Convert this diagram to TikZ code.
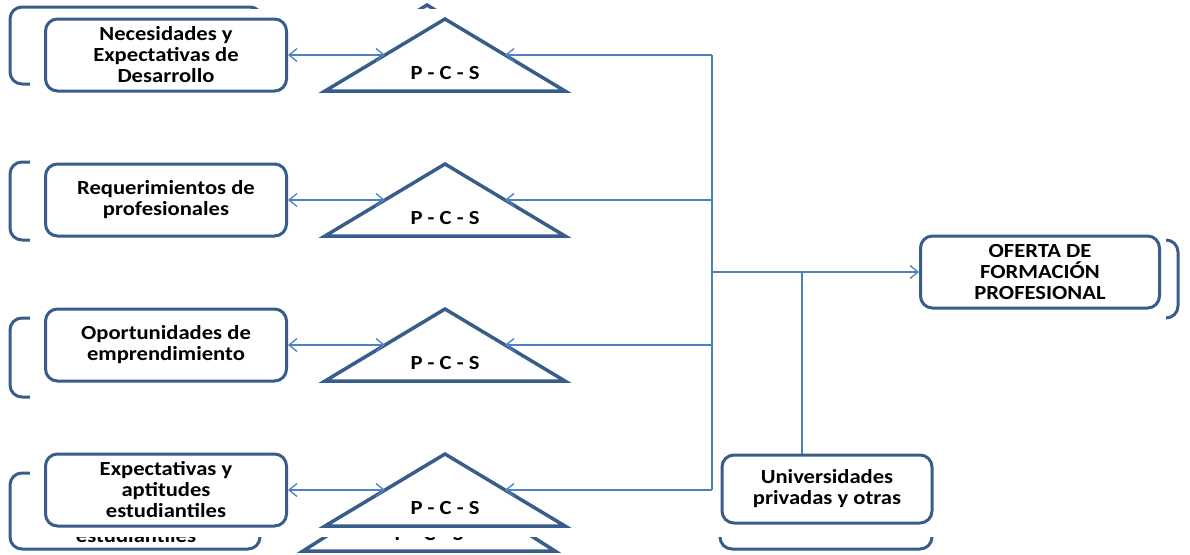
\documentclass[tikz,border=0pt]{standalone}
\usepackage{fontspec}
\newfontfamily\calfont[FakeStretch=1.13]{Carlito}
\usetikzlibrary{positioning,arrows.meta}
\definecolor{shapeblue}{RGB}{56,93,138}
\definecolor{linkblue}{RGB}{79,129,189}

\begin{document}
\begin{tikzpicture}[x=1pt,y=-1pt,>={Straight Barb[length=8pt,width=13pt]},
   node distance=70pt,
   every node/.style={font=\calfont\bfseries\fontsize{20}{21}\selectfont},
   box/.style={draw=shapeblue,line width=3pt,rounded corners=12pt,fill=white,
     align=center,minimum width=241pt,minimum height=72pt,inner sep=2pt},
   ghost/.style={draw=shapeblue,line width=3pt,rounded corners=12pt},
   tri/.style={draw=shapeblue,line width=3.5pt},
   link/.style={draw=linkblue,line width=1.3pt}]
  \useasboundingbox (0,0) rectangle (1190,554);
  % shifted copy left behind, only its edges show
  \draw[ghost] (10,7) rectangle (262,84);
  \draw[ghost] (10,162) rectangle (262,240);
  \draw[ghost] (10,318) rectangle (262,397);
  \draw[ghost] (10,473) rectangle (260,549);
  \draw[ghost] (720,470) rectangle (932,549);
  \draw[ghost] (900,240) rectangle (1178,318);
  \draw[tri] (305,80) -- (427,5) -- (549,80) -- cycle;
  \draw[tri] (303,551) -- (429,471) -- (555,551) -- cycle;
  \node[anchor=base] (gst) at (136,542) {estudiantiles};
  \node[anchor=base] (gpcs) at (429,540) {P - C - S};
  \fill[white] (30,9) rectangle (1166,537);

  % left column
  \node[box] (b1) at (166,55) {Necesidades y\\Expectativas de\\Desarrollo};
  \node[box] (b2) [below=of b1] {Requerimientos de\\profesionales};
  \node[box] (b3) [below=of b2] {Oportunidades de\\emprendimiento};
  \node[box] (b4) [below=of b3] {Expectativas y\\aptitudes\\estudiantiles};

  % triangles
  \draw[tri] (325,91) -- (445,19) -- (565,91) -- cycle;
  \draw[tri] (325,236) -- (445,164) -- (565,236) -- cycle;
  \draw[tri] (325,381) -- (445,309) -- (565,381) -- cycle;
  \draw[tri] (325,526) -- (445,454) -- (565,526) -- cycle;
  \node (p1) at (445,73) {P - C - S};
  \node (p2) at (445,218) {P - C - S};
  \node (p3) at (445,363) {P - C - S};
  \node (p4) at (445,508) {P - C - S};
  \coordinate (t1w) at (385,55);  \coordinate (t1e) at (505,55);
  \coordinate (t2w) at (385,200); \coordinate (t2e) at (505,200);
  \coordinate (t3w) at (385,345); \coordinate (t3e) at (505,345);
  \coordinate (t4w) at (385,490); \coordinate (t4e) at (505,490);

  % right side
  \node[box,minimum width=239pt] (ofe) at (1040,272) {OFERTA DE\\FORMACIÓN\\PROFESIONAL};
  \node[box,minimum width=210pt,minimum height=68pt] (univ) at (827,489)
    {Universidades\\privadas y otras};
  \coordinate (j1) at (712,55);
  \coordinate (j2) at (712,200);
  \coordinate (j3) at (712,345);
  \coordinate (j4) at (712,490);
  \coordinate (jm) at (712,272);
  \coordinate (ju) at (802,272);

  \draw[link] (j1) -- (j4);
  \draw[link,->] (jm) -- (ofe);
  \draw[link] (ju) -- (ju |- univ.north);
  \draw[link,<->] (b1) -- (t1w);
  \draw[link,<->] (b2) -- (t2w);
  \draw[link,<->] (b3) -- (t3w);
  \draw[link,<->] (b4) -- (t4w);
  \draw[link,->] (j1) -- (t1e);
  \draw[link,->] (j2) -- (t2e);
  \draw[link,->] (j3) -- (t3e);
  \draw[link,->] (j4) -- (t4e);
\end{tikzpicture}
\end{document}
